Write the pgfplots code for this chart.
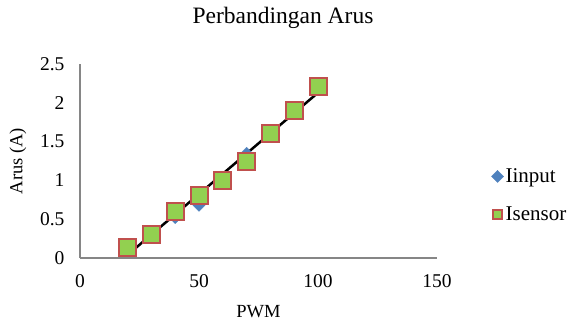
\documentclass[border=0pt]{standalone}
\usepackage{fontspec}
\setmainfont{Liberation Serif}
\usepackage{pgfplots}
\pgfplotsset{compat=1.18}
\definecolor{iblue}{HTML}{4F81BD}
\definecolor{sgreen}{HTML}{92D050}
\definecolor{sred}{HTML}{C0504D}
\definecolor{axgray}{HTML}{868686}
\begin{document}
\begin{tikzpicture}
\path[use as bounding box] (0,0) rectangle (569bp,323bp);
\node[font=\fontsize{23.5bp}{27bp}\selectfont] at (283bp,305bp) {Perbandingan Arus};
\begin{axis}[
  at={(80bp,65bp)}, anchor=south west,
  scale only axis, width=357bp, height=194bp,
  xmin=0, xmax=150, ymin=0, ymax=2.5,
  xtick={0,50,100,150}, ytick={0,0.5,1,1.5,2,2.5},
  yticklabels={0,0.5,1,1.5,2,2.5},
  axis x line*=bottom, axis y line*=left,
  axis line style={draw=axgray, line width=1.3bp, -},
  major tick length=0pt,
  /pgf/number format/assume math mode=true,
  tick label style={font=\fontsize{19.5bp}{22bp}\selectfont},
  yticklabel style={xshift=-12bp},
  xticklabel style={yshift=-13bp},
  xlabel={PWM}, ylabel={Arus (A)},
  label style={font=\fontsize{18.5bp}{22bp}\selectfont},
  xlabel style={at={(axis description cs:0.5,-0.275)}, anchor=center},
  ylabel style={at={(axis description cs:-0.174,0.5)}, anchor=center},
  clip=false,
  legend style={draw=none, fill=none, at={(axis description cs:1.152,0.322)}, anchor=west,
    font=\fontsize{21bp}{24bp}\selectfont, row sep=19bp, inner sep=0pt},
  legend cell align=left,
]
\addplot[only marks, mark=square*, mark size=4.3bp, mark options={rotate=45, fill=iblue, draw=iblue, line width=0.3bp}]
  coordinates {(20,0.12) (30,0.28) (40,0.52) (50,0.68) (60,1.0) (70,1.35) (80,1.6) (90,1.9) (100,2.2)};
\addlegendentry{Iinput}
\addplot[only marks, mark=square*, mark size=8.5bp, mark options={fill=sgreen, draw=sred, line width=2bp},
  legend image code/.code={\draw[fill=sgreen, draw=sred, line width=1.6bp] (0.3cm-4.5bp,-4.5bp) rectangle (0.3cm+4.5bp,4.5bp);}]
  coordinates {(20,0.14) (30,0.30) (40,0.60) (50,0.80) (60,1.0) (70,1.24) (80,1.60) (90,1.90) (100,2.21)};
\addlegendentry{Isensor}
\addplot[black, line width=2.5bp, forget plot] coordinates {(20,0.04) (100,2.13)};
\end{axis}
\end{tikzpicture}
\end{document}
